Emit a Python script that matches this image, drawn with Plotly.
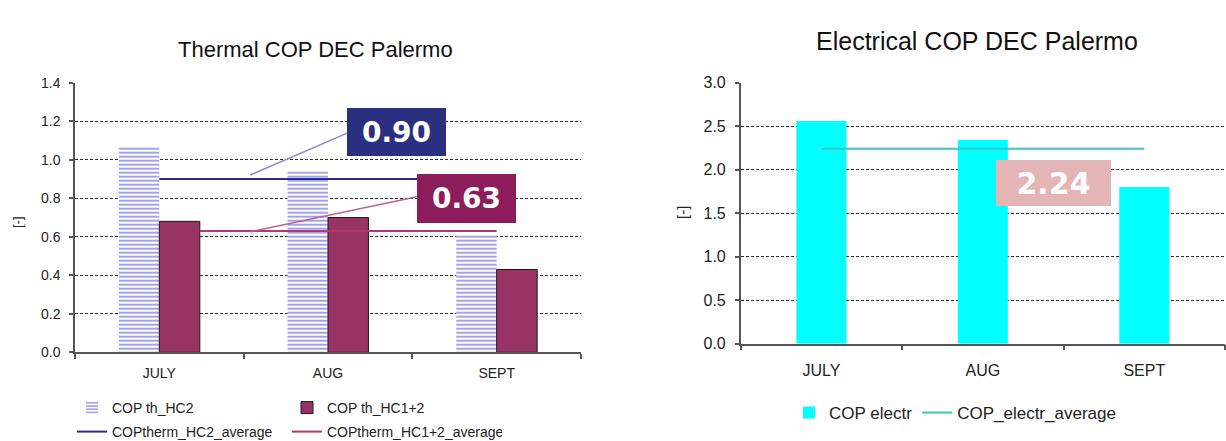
import plotly.graph_objects as go

# ---- data -------------------------------------------------------------
months = ["JULY", "AUG", "SEPT"]

cop_th_hc2 = [1.07, 0.94, 0.61]      # COP th_HC2
cop_th_hc12 = [0.68, 0.70, 0.43]     # COP th_HC1+2
cop_th_hc2_avg = 0.90                # COPtherm_HC2_average
cop_th_hc12_avg = 0.63               # COPtherm_HC1+2_average

cop_electr = [2.56, 2.34, 1.80]      # COP electr
cop_electr_avg = 2.24                # COP_electr_average

thermal_ticks = [0.0, 0.2, 0.4, 0.6, 0.8, 1.0, 1.2, 1.4]
electr_ticks = [0.0, 0.5, 1.0, 1.5, 2.0, 2.5, 3.0]

# ---- styling ------------------------------------------------------------
W, H = 1226, 441
FONT = "Liberation Sans, Arial, sans-serif"
BOX_FONT = "DejaVu Sans, Verdana, sans-serif"
TXT = "#222222"
AXIS = "#555555"

HC2_FG = "#4848dc"
HC12_FILL = "#993366"
HC2_AVG_C = "#2b2f8c"
HC12_AVG_C = "#b03a70"
ELEC_C = "#00ffff"
ELEC_AVG_C = "#3cc4c4"

# horizontal extent of the average lines, in category units
HC2_AVG_SPAN = (0.0, 1.53)
HC12_AVG_SPAN = (0.24, 2.0)
ELEC_AVG_SPAN = (0.0, 2.0)

idx = list(range(len(months)))


def px(xp):
    return xp / W


def py(yp):
    return 1 - yp / H


fig = go.Figure()

# ---- thermal COP subplot -----------------------------------------------
fig.add_trace(go.Bar(
    x=idx, y=cop_th_hc2, name="COP th_HC2",
    width=0.24, offset=-0.24,
    marker=dict(color="white",
                pattern=dict(shape="-", fgcolor=HC2_FG, bgcolor="white",
                             size=4, solidity=0.5, fillmode="overlay"),
                line=dict(width=0)),
    xaxis="x", yaxis="y", legend="legend",
))
fig.add_trace(go.Bar(
    x=idx, y=cop_th_hc12, name="COP th_HC1+2",
    width=0.24, offset=0.0,
    marker=dict(color=HC12_FILL, line=dict(color="#1a1a1a", width=1)),
    xaxis="x", yaxis="y", legend="legend",
))
fig.add_trace(go.Scatter(
    x=list(HC2_AVG_SPAN), y=[cop_th_hc2_avg] * 2, mode="lines",
    name="COPtherm_HC2_average", line=dict(color=HC2_AVG_C, width=2),
    xaxis="x", yaxis="y", legend="legend3",
))
fig.add_trace(go.Scatter(
    x=list(HC12_AVG_SPAN), y=[cop_th_hc12_avg] * 2, mode="lines",
    name="COPtherm_HC1+2_average", line=dict(color=HC12_AVG_C, width=2),
    xaxis="x", yaxis="y", legend="legend3",
))

# ---- electrical COP subplot ---------------------------------------------
fig.add_trace(go.Bar(
    x=idx, y=cop_electr, name="COP electr",
    width=0.31, offset=-0.155,
    marker=dict(color=ELEC_C, line=dict(width=0)),
    xaxis="x2", yaxis="y2", legend="legend2",
))
fig.add_trace(go.Scatter(
    x=list(ELEC_AVG_SPAN), y=[cop_electr_avg] * 2, mode="lines",
    name="COP_electr_average", line=dict(color=ELEC_AVG_C, width=2),
    xaxis="x2", yaxis="y2", legend="legend2",
))


def xaxis_cfg(domain, size, standoff):
    return dict(
        domain=domain, range=[-0.5, 2.5], tickvals=idx, ticktext=months,
        ticks="", showgrid=False, zeroline=False,
        showline=True, linecolor=AXIS, linewidth=1.5,
        tickfont=dict(family=FONT, size=size, color=TXT),
        ticklabelstandoff=standoff,
        minor=dict(tickvals=[-0.5, 0.5, 1.5, 2.5], ticks="outside",
                   ticklen=5, tickcolor=AXIS, tickwidth=1.5, showgrid=False),
    )


def yaxis_cfg(domain, rng, tickvals, size, anchor):
    return dict(
        domain=domain, range=rng, tickvals=tickvals, tickformat=".1f",
        anchor=anchor, showline=True, linecolor=AXIS, linewidth=1.5,
        ticks="outside", ticklen=4, tickcolor=AXIS, tickwidth=1.5,
        ticklabelstandoff=6, zeroline=False,
        showgrid=True, gridcolor="#2a2a2a", gridwidth=1, griddash="3px,2px",
        tickfont=dict(family=FONT, size=size, color=TXT),
    )


legend_common = dict(orientation="h", xanchor="left", yanchor="middle",
                     bgcolor="rgba(0,0,0,0)", itemclick=False)

fig.update_layout(
    width=W, height=H,
    margin=dict(l=0, r=0, t=0, b=0, autoexpand=False),
    paper_bgcolor="white", plot_bgcolor="white",
    barmode="overlay",
    xaxis=xaxis_cfg([px(75), px(581)], 14, 7) | dict(anchor="y"),
    yaxis=yaxis_cfg([py(352.3), py(82.7)], [0, 1.4], thermal_ticks, 14, "x"),
    xaxis2=xaxis_cfg([px(740.7), px(1225)], 16, 11) | dict(anchor="y2"),
    yaxis2=yaxis_cfg([py(343.7), py(82.7)], [0, 3.0], electr_ticks, 16, "x2"),
    legend=legend_common | dict(
        x=px(72), y=py(408), entrywidth=170, entrywidthmode="pixels",
        font=dict(family=FONT, size=14, color=TXT)),
    legend3=legend_common | dict(
        x=px(72), y=py(432), entrywidth=170, entrywidthmode="pixels",
        font=dict(family=FONT, size=14, color=TXT)),
    legend2=legend_common | dict(
        x=px(789), y=py(413),
        font=dict(family=FONT, size=17, color=TXT)),
    showlegend=True,
)

annotations = [
    # chart titles
    dict(text="Thermal COP DEC Palermo", x=px(315), y=py(49),
         xref="paper", yref="paper", xanchor="center", yanchor="middle",
         showarrow=False, font=dict(family=FONT, size=22, color="#111111")),
    dict(text="Electrical COP DEC Palermo", x=px(977), y=py(41),
         xref="paper", yref="paper", xanchor="center", yanchor="middle",
         showarrow=False, font=dict(family=FONT, size=25, color="#111111")),
    # y-axis units
    dict(text="[-]", x=px(17), y=py(222), xref="paper", yref="paper",
         xanchor="center", yanchor="middle", showarrow=False, textangle=-90,
         font=dict(family=FONT, size=13, color=TXT)),
    dict(text="[-]", x=px(682), y=py(213), xref="paper", yref="paper",
         xanchor="center", yanchor="middle", showarrow=False, textangle=-90,
         font=dict(family=FONT, size=15, color=TXT)),
    # average value callouts
    dict(text=f"<b>{cop_th_hc2_avg:.2f}</b>", x=1.405, y=1.145,
         xref="x", yref="y", showarrow=False, width=99, height=48,
         bgcolor="#2b2f80", borderpad=0, borderwidth=0,
         font=dict(family=BOX_FONT, size=28, color="white")),
    dict(text=f"<b>{cop_th_hc12_avg:.2f}</b>", x=1.822, y=0.797,
         xref="x", yref="y", showarrow=False, width=99, height=49,
         bgcolor="#8c1c5a", borderpad=0, borderwidth=0,
         font=dict(family=BOX_FONT, size=28, color="white")),
    dict(text=f"<b>{cop_electr_avg:.2f}</b>", x=1.435, y=1.848,
         xref="x2", yref="y2", showarrow=False, width=115, height=46,
         bgcolor="#e4b5b5", borderpad=0, borderwidth=0,
         font=dict(family=BOX_FONT, size=30, color="white")),
]
fig.update_layout(annotations=annotations)

# leader lines from the callouts to the average lines
fig.add_shape(type="line", xref="x", yref="y",
              x0=0.539, y0=0.921, x1=1.111, y1=1.137,
              line=dict(color="#8a8ad0", width=1.5))
fig.add_shape(type="line", xref="x", yref="y",
              x0=0.539, y0=0.626, x1=1.526, y1=0.808,
              line=dict(color="#c0608e", width=1.5))

fig.write_html("out.html")
